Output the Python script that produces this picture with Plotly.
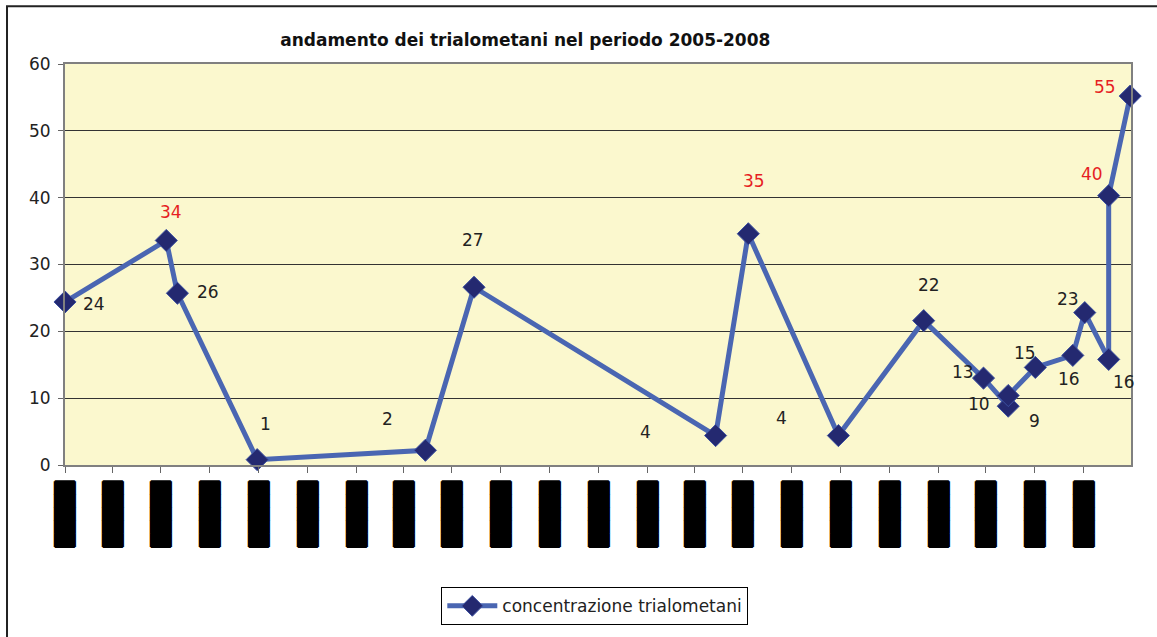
import plotly.graph_objects as go

# ---- data ----
dates = ["2005-01-15", "2005-05-22", "2005-06-05", "2005-09-13", "2006-04-12",
         "2006-06-12", "2007-04-11", "2007-05-22", "2007-09-12", "2007-12-28",
         "2008-03-12", "2008-04-12", "2008-04-12", "2008-05-16", "2008-07-02",
         "2008-07-17", "2008-08-16", "2008-08-16", "2008-09-12"]
values = [24.4, 33.6, 25.7, 0.8, 2.2, 26.6, 4.4, 34.6, 4.4, 21.6,
          13.0, 8.8, 10.4, 14.6, 16.4, 22.8, 15.8, 40.3, 55.2]
labels = [str(int(round(v))) for v in values]
series_name = "concentrazione trialometani"
title_text = "andamento dei trialometani nel periodo 2005-2008"
x_range = ["2005-01-15", "2008-09-13"]
y_ticks = [0, 10, 20, 30, 40, 50, 60]
threshold = 30

# label offsets (pixels) - styling only
label_dx = [29, 5, 31, 8, -38, -1, -70, 6, -57, 5, -21, 26, -29, -10, -4, -17, 15, -17, -25]
label_dy = [-2, 28, 1, 36, 31, 47, 4, 53, 18, 36, 6, -15, -9, 14, -24, 14, -23, 22, 9]

FONT = "DejaVu Sans, Liberation Sans, sans-serif"
LINE_BLUE = "rgb(74,102,178)"
NAVY = "rgb(36,41,112)"

fig = go.Figure()
fig.add_trace(go.Scatter(
    x=dates, y=values, mode="lines+markers", name=series_name,
    line=dict(color=LINE_BLUE, width=5),
    marker=dict(symbol="diamond", size=17, color=NAVY,
                line=dict(color="rgb(60,80,160)", width=1)),
    cliponaxis=False,
))

annotations = []
for d, v, lab, dx, dy in zip(dates, values, labels, label_dx, label_dy):
    annotations.append(dict(
        x=d, y=v, text=lab, showarrow=False, xshift=dx, yshift=dy,
        font=dict(family=FONT, size=17, color="rgb(230,30,35)" if v > threshold else "#222222"),
    ))

block_shadow = "0px 1px 0px #000, 0px -1px 0px #000, 1px 0px 0px #000, -1px 0px 0px #000"

fig.update_layout(
    width=1157, height=637,
    margin=dict(l=65, r=26, t=64, b=170),
    paper_bgcolor="white",
    plot_bgcolor="rgb(251,248,206)",
    title=dict(text="<b>" + title_text + "</b>", xref="container", x=0.454, xanchor="center",
               yref="container", y=0.937, yanchor="middle",
               font=dict(family=FONT, size=17, color="#111111")),
    showlegend=True,
    legend=dict(orientation="h", x=0.497, xanchor="center", y=-0.305, yanchor="top",
                bordercolor="#000000", borderwidth=1, bgcolor="white",
                font=dict(family=FONT, size=17, color="#222222"), itemwidth=50),
    annotations=annotations,
    xaxis=dict(type="date", range=x_range, tick0=x_range[0], dtick="M2",
               tickformat="█████", tickangle=90, ticklabelstandoff=5,
               tickfont=dict(family="DejaVu Sans", size=17, color="black", shadow=block_shadow),
               showgrid=False, showline=True, linecolor="#808080", linewidth=2,
               mirror=True, ticks="outside", ticklen=6, tickcolor="#666666",
               zeroline=False),
    yaxis=dict(range=[0, 60], tickvals=y_ticks, showgrid=True, gridcolor="#333333",
               gridwidth=1, showline=True, linecolor="#808080", linewidth=2, mirror=True,
               ticks="outside", ticklen=5, tickcolor="#666666", zeroline=False,
               ticklabelstandoff=4,
               tickfont=dict(family=FONT, size=17, color="#222222")),
    shapes=[dict(type="rect", xref="paper", yref="paper", x0=-0.0544, x1=1.03,
                 y0=-0.45, y1=1.144, line=dict(color="#222222", width=2),
                 fillcolor="rgba(0,0,0,0)", layer="below")],
)

fig.write_html("out.html", config={"displayModeBar": False},
               post_script="document.body.style.margin='0';")
